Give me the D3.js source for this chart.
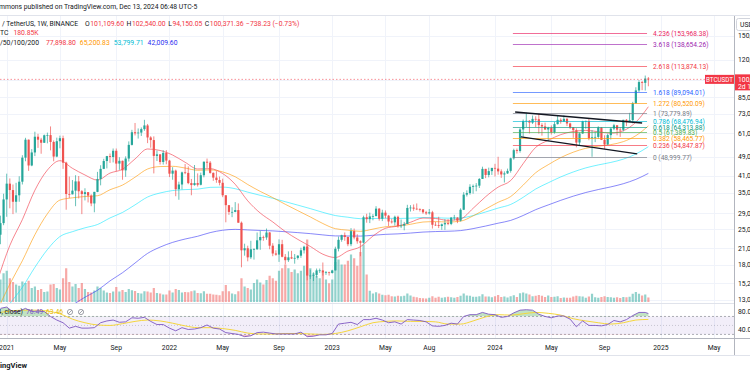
<!DOCTYPE html>
<html>
<head>
<meta charset="utf-8">
<script src="https://cdn.jsdelivr.net/npm/d3@7"></script>
<style>
  body { margin: 0; background: #fff; }
  svg { display: block; font-family: Roboto, "Noto Sans", sans-serif; }
</style>
</head>
<body>
<svg id="chart" width="750" height="375"></svg>
<script>
// weekly BTCUSDT candles (Binance), first bar = week of Mon 21 Dec 2020, prices in thousand USDT
const firstWeek = "2020-12-21";

const opens = [
  23.8, 26.5, 33.0, 38.2, 36.0, 32.3, 34.3, 38.9, 48.6, 57.4,
  45.2, 51.0, 59.0, 57.4, 55.8, 59.8, 59.9, 56.2, 49.1, 56.6,
  58.2, 46.4, 34.7, 34.6, 35.8, 39.0, 35.6, 34.7, 35.3, 34.2,
  31.8, 35.4, 39.9, 43.8, 47.1, 49.3, 48.9, 51.8, 46.0, 47.2,
  43.2, 48.2, 54.7, 61.5, 60.9, 61.3, 63.3, 65.5, 58.6, 57.2,
  49.4, 50.1, 46.7, 50.8, 47.3, 41.9, 43.1, 36.3, 37.9, 42.4,
  42.2, 38.4, 37.7, 38.4, 37.8, 41.3, 46.8, 46.4, 42.2, 40.4,
  39.5, 38.5, 34.3, 31.3, 29.4, 29.4, 29.9, 26.6, 20.6, 21.0,
  19.3, 20.8, 20.8, 22.6, 23.3, 23.2, 24.3, 21.5, 20.0, 19.8,
  21.8, 19.4, 18.8, 19.3, 19.1, 19.2, 19.6, 20.6, 21.3, 16.3,
  16.3, 16.4, 17.1, 17.1, 16.8, 16.8, 16.7, 17.1, 20.9, 22.7,
  23.7, 23.3, 21.8, 24.6, 23.2, 22.4, 22.1, 28.0, 27.5, 28.2,
  28.3, 30.3, 27.6, 29.2, 28.4, 26.9, 26.7, 28.1, 25.8, 25.9,
  26.3, 30.5, 30.6, 30.3, 30.2, 30.1, 29.3, 29.0, 29.3, 26.1,
  26.0, 25.8, 26.2, 26.5, 26.3, 27.9, 27.9, 27.1, 30.0, 34.5,
  35.0, 37.1, 37.4, 37.5, 39.9, 43.8, 41.4, 42.9, 44.2, 43.9,
  42.8, 41.6, 42.0, 43.0, 48.3, 52.1, 51.7, 63.1, 68.3, 68.4,
  67.2, 69.6, 69.4, 65.7, 64.9, 63.1, 64.0, 61.5, 66.3, 69.0,
  67.8, 69.6, 66.7, 64.3, 62.7, 55.9, 60.8, 68.2, 68.3, 58.2,
  58.7, 58.9, 64.2, 57.3, 54.9, 59.9, 63.6, 65.6, 63.0, 62.9,
  69.0, 68.0, 68.8, 80.4, 90.6, 97.9, 97.2, 101.1096
];
const highs = [
  28.4, 34.8, 41.9, 40.1, 37.9, 38.5, 40.9, 49.7, 58.4, 57.5,
  52.6, 61.8, 60.6, 58.4, 60.2, 61.3, 64.9, 57.0, 58.5, 59.6,
  59.6, 46.8, 40.8, 39.5, 41.3, 41.0, 36.0, 36.6, 35.3, 34.6,
  35.4, 42.6, 45.3, 48.1, 49.4, 50.5, 52.9, 52.9, 48.8, 47.3,
  49.2, 56.5, 62.9, 67.0, 63.7, 64.3, 69.0, 66.4, 59.3, 59.2,
  51.9, 50.2, 52.1, 52.1, 47.6, 44.5, 43.5, 38.9, 42.7, 45.8,
  44.8, 39.9, 45.4, 42.0, 42.3, 46.9, 48.2, 47.1, 42.4, 42.9,
  40.8, 40.0, 34.3, 31.3, 30.7, 32.2, 31.8, 26.9, 21.9, 21.5,
  22.5, 21.0, 24.3, 24.7, 23.6, 25.2, 24.4, 22.0, 20.6, 22.8,
  22.7, 19.9, 20.4, 20.5, 19.9, 19.7, 21.1, 21.5, 21.5, 17.2,
  16.8, 17.4, 17.4, 18.4, 17.0, 16.9, 17.2, 21.3, 23.4, 23.8,
  24.3, 23.4, 25.3, 25.2, 23.9, 22.6, 28.4, 28.9, 29.2, 28.8,
  31.0, 30.5, 30.0, 29.8, 28.6, 27.6, 28.4, 28.4, 27.4, 26.8,
  31.4, 31.3, 31.5, 31.8, 30.4, 30.1, 29.7, 30.2, 29.7, 26.8,
  28.1, 26.4, 27.5, 27.5, 28.0, 28.6, 28.0, 30.4, 35.3, 35.9,
  38.0, 37.9, 38.4, 40.2, 44.7, 43.8, 44.3, 44.2, 45.9, 49.0,
  43.6, 42.8, 43.9, 48.6, 52.8, 52.9, 64.0, 69.2, 73.8, 68.9,
  71.8, 71.3, 72.8, 66.9, 67.2, 64.7, 65.5, 67.7, 71.9, 70.0,
  71.9, 70.2, 67.2, 64.5, 63.8, 61.4, 68.4, 68.5, 70.0, 62.7,
  61.8, 65.0, 64.5, 59.8, 60.7, 64.1, 66.5, 65.6, 64.5, 69.0,
  69.5, 73.6, 81.5, 93.3, 99.6, 98.9, 104.0, 102.54
];
const lows = [
  21.8, 26.0, 28.1, 30.4, 28.8, 29.2, 32.3, 37.9, 47.0, 43.0,
  44.9, 49.3, 53.2, 50.4, 55.7, 55.5, 52.0, 47.0, 48.8, 53.0,
  43.8, 30.0, 33.4, 34.6, 31.0, 33.3, 28.8, 32.7, 32.1, 31.0,
  29.3, 35.3, 37.6, 43.7, 44.0, 46.3, 46.5, 42.8, 43.4, 39.6,
  40.7, 46.9, 54.4, 59.7, 58.0, 59.4, 62.3, 55.6, 53.3, 42.0,
  47.1, 45.6, 45.6, 45.7, 40.6, 39.6, 34.0, 32.9, 36.2, 41.7,
  38.0, 34.3, 37.5, 37.2, 37.6, 40.5, 44.2, 41.9, 39.2, 38.5,
  37.6, 33.7, 26.7, 28.6, 28.0, 29.3, 26.6, 17.6, 19.6, 18.6,
  19.0, 18.9, 20.7, 20.7, 22.5, 22.7, 20.8, 19.5, 19.6, 18.5,
  19.3, 18.1, 18.5, 19.0, 18.2, 18.9, 19.2, 20.0, 15.6, 15.8,
  15.5, 16.0, 16.7, 16.3, 16.4, 16.3, 16.6, 17.1, 20.4, 22.3,
  22.5, 21.4, 21.4, 22.8, 21.9, 19.5, 21.9, 26.6, 26.5, 27.2,
  28.2, 27.1, 27.0, 27.7, 25.8, 26.4, 25.9, 25.4, 25.3, 24.8,
  26.3, 29.5, 29.7, 29.9, 29.5, 28.9, 28.6, 28.7, 25.2, 25.8,
  25.3, 24.9, 24.9, 26.0, 26.0, 27.2, 26.5, 26.9, 29.9, 33.9,
  34.5, 34.8, 35.6, 36.7, 39.9, 40.2, 40.5, 41.4, 40.8, 41.5,
  40.3, 38.6, 41.8, 42.3, 47.7, 50.5, 50.9, 59.0, 64.5, 60.8,
  66.4, 64.5, 60.7, 59.6, 62.8, 56.6, 60.2, 60.7, 66.1, 66.6,
  67.6, 65.1, 63.4, 58.4, 53.5, 54.3, 60.6, 63.5, 57.1, 49.0,
  56.1, 57.8, 57.2, 52.6, 54.6, 57.5, 62.7, 59.8, 58.9, 62.0,
  65.1, 67.5, 66.8, 80.2, 89.3, 90.8, 90.5, 94.15005
];
const closes = [
  26.5, 33.0, 38.2, 36.0, 32.3, 34.3, 38.9, 48.6, 57.4, 45.2,
  51.0, 59.0, 57.4, 55.8, 59.8, 59.9, 56.2, 49.1, 56.6, 58.2,
  46.4, 34.7, 34.6, 35.8, 39.0, 35.6, 34.7, 35.3, 34.2, 31.8,
  35.4, 39.9, 43.8, 47.1, 49.3, 48.9, 51.8, 46.0, 47.2, 43.2,
  48.2, 54.7, 61.5, 60.9, 61.3, 63.3, 65.5, 58.6, 57.2, 49.4,
  50.1, 46.7, 50.8, 47.3, 41.9, 43.1, 36.3, 37.9, 42.4, 42.2,
  38.4, 37.7, 38.4, 37.8, 41.3, 46.8, 46.4, 42.2, 40.4, 39.5,
  38.5, 34.3, 31.3, 29.4, 29.4, 29.9, 26.6, 20.6, 21.0, 19.3,
  20.8, 20.8, 22.6, 23.3, 23.2, 24.3, 21.5, 20.0, 19.8, 21.8,
  19.4, 18.8, 19.3, 19.1, 19.2, 19.6, 20.6, 21.3, 16.3, 16.3,
  16.4, 17.1, 17.1, 16.8, 16.8, 16.7, 17.1, 20.9, 22.7, 23.7,
  23.3, 21.8, 24.6, 23.2, 22.4, 22.1, 28.0, 27.5, 28.2, 28.3,
  30.3, 27.6, 29.2, 28.4, 26.9, 26.7, 28.1, 25.8, 25.9, 26.3,
  30.5, 30.6, 30.3, 30.2, 30.1, 29.3, 29.0, 29.3, 26.1, 26.0,
  25.8, 26.2, 26.5, 26.3, 27.9, 27.9, 27.1, 30.0, 34.5, 35.0,
  37.1, 37.4, 37.5, 39.9, 43.8, 41.4, 42.9, 44.2, 43.9, 42.8,
  41.6, 42.0, 43.0, 48.3, 52.1, 51.7, 63.1, 68.3, 68.4, 67.2,
  69.6, 69.4, 65.7, 64.9, 63.1, 64.0, 61.5, 66.3, 69.0, 67.8,
  69.6, 66.7, 64.3, 62.7, 55.9, 60.8, 68.2, 68.3, 58.2, 58.7,
  58.9, 64.2, 57.3, 54.9, 59.9, 63.6, 65.6, 63.0, 62.9, 69.0,
  68.0, 68.8, 80.4, 90.6, 97.9, 97.2, 101.1096, 100.37136
];
// weekly volume, thousand BTC
const volumes = [
  900, 1150, 1250, 950, 800, 700, 650, 820, 760, 850,
  560, 620, 480, 520, 400, 420, 700, 720, 560, 500,
  950, 1350, 800, 620, 720, 560, 760, 520, 400, 380,
  460, 620, 560, 460, 380, 360, 420, 600, 420, 480,
  400, 520, 470, 440, 360, 340, 430, 420, 380, 560,
  360, 340, 300, 300, 460, 380, 520, 480, 380, 400,
  390, 430, 460, 360, 350, 430, 330, 330, 300, 290,
  270, 430, 680, 430, 340, 310, 430, 950, 620, 560,
  500, 760, 900, 780, 700, 880, 1050, 950, 850, 1250,
  1350, 1500, 1350, 1200, 1300, 1150, 1250, 1450, 2500, 1350,
  1150, 1050, 950, 1200, 900, 750, 900, 1600, 1700, 1500,
  1500, 1650, 1900, 1750, 1450, 2000, 2300, 1100, 450, 340,
  390, 340, 290, 270, 290, 230, 220, 250, 230, 250,
  340, 260, 210, 190, 160, 150, 140, 170, 230, 170,
  210, 170, 190, 210, 190, 170, 200, 250, 340, 260,
  250, 210, 210, 230, 310, 220, 220, 190, 230, 280,
  200, 220, 180, 230, 270, 200, 350, 380, 340, 300,
  230, 250, 280, 250, 200, 260, 200, 210, 230, 160,
  180, 170, 170, 220, 250, 230, 220, 170, 220, 330,
  190, 170, 200, 230, 200, 190, 170, 190, 160, 200,
  190, 210, 330, 400, 330, 260, 300, 180.85
];

// moving averages, one value every 4 weeks (from week -1), thousand USDT
const ema20 = [15.5, 21.55, 27.38, 35.93, 43.33, 47.25, 44.03, 41.39, 39.48, 42.12, 43.65, 48.02, 52.67,
  51.95, 49.8, 46.56, 43.76, 43.9, 41.94, 37.97, 32.58, 29.09, 26.79, 24.51, 22.79, 21.35, 19.87,
  19.27, 20.45, 21.29, 23.5, 25.26, 25.79, 26.71, 27.77, 27.66, 27.18, 27.55, 30.39, 33.84, 36.99,
  39.3, 45.98, 53.47, 57.06, 60.15, 61.93, 62.57, 61.8, 60.95, 62.37, 67.52, 77.9];
const ema50 = [11.8, 15.06, 18.7, 23.8, 28.9, 32.8, 33.5, 33.9, 34.15, 36.1, 37.7, 40.55, 43.75,
  44.75, 44.86, 44.14, 43.24, 43.39, 42.59, 40.72, 37.9, 35.55, 33.57, 31.55, 29.74, 28.06, 26.4,
  25.17, 24.83, 24.56, 25.07, 25.62, 25.8, 26.21, 26.77, 26.87, 26.77, 26.99, 28.34, 30.19, 32.14,
  33.89, 37.68, 42.26, 45.52, 48.61, 51.12, 53.0, 54.07, 54.84, 56.38, 59.57, 65.2];
const ema100 = [10.8, 12.57, 14.62, 17.6, 20.74, 23.4, 24.48, 25.37, 26.16, 27.8, 29.26, 31.38, 33.75,
  35.03, 35.83, 36.15, 36.3, 36.91, 36.99, 36.45, 35.31, 34.29, 33.35, 32.32, 31.31, 30.31, 29.28,
  28.42, 27.99, 27.61, 27.64, 27.73, 27.67, 27.74, 27.91, 27.87, 27.74, 27.79, 28.43, 29.38, 30.46,
  31.5, 33.66, 36.35, 38.5, 40.65, 42.56, 44.2, 45.43, 46.5, 47.94, 50.25, 53.8];
const ema200 = [null, null, null, null, null, null, 12.4, 13.34, 14.22, 15.52, 16.74, 18.31, 20.02,
  21.22, 22.17, 22.87, 23.46, 24.27, 24.81, 25.01, 24.88, 24.76, 24.66, 24.47, 24.27, 24.04, 23.76,
  23.54, 23.52, 23.5, 23.68, 23.88, 23.99, 24.17, 24.39, 24.51, 24.58, 24.73, 25.18, 25.79, 26.48,
  27.17, 28.44, 30.02, 31.36, 32.73, 34.02, 35.19, 36.17, 37.07, 38.18, 39.74, 42.01];

// RSI 14, one value every 2 weeks + last week
const rsi = [
  88, 91, 80, 82, 88, 81, 82, 81, 70, 62,
  56, 44, 48, 44, 44, 45, 56, 60, 62, 57,
  58, 67, 66, 68, 59, 52, 52, 44, 38, 45,
  41, 42, 45, 51, 44, 42, 34, 32, 30, 25,
  27, 34, 35, 33, 31, 31, 31, 31, 35, 25,
  26, 29, 29, 32, 53, 55, 57, 52, 63, 63,
  66, 62, 56, 58, 53, 63, 62, 61, 58, 49,
  48, 50, 55, 53, 70, 74, 74, 79, 75, 74,
  68, 70, 78, 84, 85, 84, 75, 70, 67, 71,
  71, 64, 47, 60, 50, 50, 49, 52, 61, 58,
  63, 72, 79, 79, 76.49
];
// RSI-based MA, one value every 4 weeks (from week -1)
const rsiMa = [78, 82, 84, 84, 82, 76, 64, 56, 51, 50, 54, 59, 62, 60, 55, 49, 45, 45, 43, 39,
  33, 31, 31, 32, 32, 31, 30, 32, 38, 47, 56, 59, 60, 59, 59, 58, 53, 53, 60, 69,
  74, 73, 76, 79, 77, 73, 65, 60, 56, 53, 56, 62, 63.46];

// fibonacci retracement drawn on the chart
const fibRatios = ["4.236", "3.618", "2.618", "1.618", "1.272", "1", "0.786", "0.618", "0.5", "0.382", "0.236", "0"];
const fibPrices = [153968.38, 138654.26, 113874.13, 89094.01, 80520.09, 73779.89, 68476.94, 64313.88, 61389.83, 58465.77, 54847.87, 48999.77];
const fibColors = ["#e91e63", "#9c27b0", "#f23645", "#2962ff", "#ff9800", "#787b86", "#00bcd4", "#089981", "#4caf50", "#ff9800", "#f23645", "#787b86"];
const fibSpan = ["2024-02-10", "2024-12-06"];

// descending channel drawn on the chart: [date, price]
const channelUpper = [["2024-02-15", 74.2], ["2024-11-25", 67.0]];
const channelLower = [["2024-02-28", 58.9], ["2024-11-14", 50.3]];

const priceTicks = [13, 15.2, 18, 21, 25, 29, 35, 41, 49, 61, 73, 85, 100, 120, 150];
const timeTicks = ["2021-01-04", "2021-05-03", "2021-09-06", "2022-01-03", "2022-05-02", "2022-09-05",
  "2023-01-02", "2023-05-01", "2023-08-07", "2024-01-01", "2024-05-06", "2024-09-02", "2025-01-06", "2025-05-05"];
const timeLabels = ["2021", "May", "Sep", "2022", "May", "Sep", "2023", "May", "Aug", "2024", "May", "Sep", "2025", "May"];

const lastPrice = 100.37136;

// ---------------------------------------------------------------
const svg = d3.select("#chart");
const paneRight = 734, paneTop = 16, paneBottom = 303, rsiTop = 303, rsiBottom = 338;
const up = "#26a69a", down = "#ef5350";
const weekMs = 7 * 864e5;
const t0 = Date.parse(firstWeek);
const weekDate = i => new Date(t0 + i * weekMs);

const x = d3.scaleUtc()
    .domain([new Date(t0), new Date(Date.UTC(2024, 0, 1))])
    .range([0.45, 495]);
const y = d3.scaleLog().domain([13, 150]).range([300, 36]);
const yVol = d3.scaleLinear().domain([0, 3000]).range([302, 227]);
const yRsi = d3.scaleLinear().domain([22, 100]).range([rsiBottom, rsiTop]);

const candles = closes.map((c, i) => ({
  date: weekDate(i), o: opens[i], h: highs[i], l: lows[i], c: c, v: volumes[i]
}));

const defs = svg.append("defs");
defs.append("clipPath").attr("id", "mainClip")
  .append("rect").attr("x", 0).attr("y", paneTop).attr("width", paneRight).attr("height", paneBottom - paneTop);
defs.append("clipPath").attr("id", "rsiClip")
  .append("rect").attr("x", 0).attr("y", rsiTop).attr("width", paneRight).attr("height", rsiBottom - rsiTop);
defs.append("clipPath").attr("id", "obClip")
  .append("rect").attr("x", 0).attr("y", rsiTop).attr("width", paneRight).attr("height", yRsi(70) - rsiTop);
defs.append("clipPath").attr("id", "osClip")
  .append("rect").attr("x", 0).attr("y", yRsi(30)).attr("width", paneRight).attr("height", rsiBottom - yRsi(30));

const dark = "#131722";

// header strip
svg.append("line").attr("x1", 0).attr("x2", 750).attr("y1", 15.5).attr("y2", 15.5).attr("stroke", "#e0e3eb");
svg.append("text").attr("x", -1).attr("y", 7).attr("dy", "0.35em")
  .attr("font-size", 6.8).attr("fill", dark)
  .text("mmons published on TradingView.com, Dec 13, 2024 06:48 UTC-5");

// grid
const grid = svg.append("g");
grid.selectAll(".hg").data(priceTicks).join("line")
  .attr("x1", 0).attr("x2", paneRight)
  .attr("y1", d => Math.round(y(d)) + 0.5).attr("y2", d => Math.round(y(d)) + 0.5)
  .attr("stroke", "#f0f3fa");
grid.selectAll(".vg").data(timeTicks).join("line")
  .attr("x1", d => Math.round(x(new Date(d))) + 0.5).attr("x2", d => Math.round(x(new Date(d))) + 0.5)
  .attr("y1", paneTop).attr("y2", rsiBottom)
  .attr("stroke", "#f0f3fa");

// main pane
const main = svg.append("g").attr("clip-path", "url(#mainClip)");
const bw = 2.2;

main.selectAll(".vol").data(candles).join("rect")
  .attr("x", d => x(d.date) - bw / 2).attr("width", bw)
  .attr("y", d => yVol(d.v)).attr("height", d => yVol(0) - yVol(d.v))
  .attr("fill", d => d.c >= d.o ? "rgba(38,166,154,0.5)" : "rgba(239,83,80,0.5)");

// moving averages
const maWeeks = ema20.map((_, k) => -1 + 4 * k);
const maLine = d3.line()
  .defined(d => d.v != null)
  .x(d => x(weekDate(d.w))).y(d => y(d.v))
  .curve(d3.curveMonotoneX);
[[ema200, "#3b3bf5", 0.6], [ema100, "#00e5ff", 0.55], [ema50, "#ff9800", 0.6], [ema20, "#f23645", 0.6]]
  .forEach(([vals, col, op]) => {
    main.append("path")
      .datum(vals.map((v, k) => ({w: maWeeks[k], v: v})))
      .attr("d", maLine).attr("fill", "none")
      .attr("stroke", col).attr("stroke-opacity", op).attr("stroke-width", 1);
  });

// fibonacci levels
const fibX0 = x(new Date(fibSpan[0])), fibX1 = x(new Date(fibSpan[1]));
const fib = svg.append("g");
fibPrices.forEach((p, i) => {
  const yy = Math.round(y(p / 1000)) + 0.5;
  fib.append("line").attr("x1", fibX0).attr("x2", fibX1).attr("y1", yy).attr("y2", yy)
    .attr("stroke", fibColors[i]).attr("stroke-opacity", 0.65);
  fib.append("text").attr("x", fibX1 + 6).attr("y", yy).attr("dy", "0.35em")
    .attr("font-size", 6.6).attr("fill", fibColors[i])
    .text(fibRatios[i] + " (" + d3.format(",.2f")(p) + ")");
});

// current price line
const yLast = y(lastPrice);
svg.append("line").attr("x1", 0).attr("x2", 705).attr("y1", yLast).attr("y2", yLast)
  .attr("stroke", "#f23645").attr("stroke-opacity", 0.55).attr("stroke-dasharray", "1.5,2");

// candles
const cg = main.append("g");
cg.selectAll(".wick").data(candles).join("line")
  .attr("x1", d => x(d.date)).attr("x2", d => x(d.date))
  .attr("y1", d => y(d.h)).attr("y2", d => y(d.l))
  .attr("stroke", d => d.c >= d.o ? up : down).attr("stroke-width", 0.7);
cg.selectAll(".body").data(candles).join("rect")
  .attr("x", d => x(d.date) - bw / 2).attr("width", bw)
  .attr("y", d => y(Math.max(d.o, d.c)))
  .attr("height", d => Math.max(0.7, Math.abs(y(d.o) - y(d.c))))
  .attr("fill", d => d.c >= d.o ? up : down);

// channel
const chLine = d3.line().x(d => x(new Date(d[0]))).y(d => y(d[1]));
[channelUpper, channelLower].forEach(c => {
  svg.append("path").datum(c).attr("d", chLine)
    .attr("stroke", dark).attr("stroke-width", 1.3).attr("fill", "none");
});

// symbol label on price line
svg.append("rect").attr("x", 705).attr("y", yLast - 4.5).attr("width", 29).attr("height", 9)
  .attr("fill", "#f23645");
svg.append("text").attr("x", 719.5).attr("y", yLast).attr("dy", "0.35em")
  .attr("text-anchor", "middle").attr("font-size", 6.3).attr("fill", "#fff").text("BTCUSDT");

// legend rows: pieces placed one after another
const leg = svg.append("g").attr("font-size", 6.8);
function legendRow(yy, x0, parts) {
  let xx = x0;
  parts.forEach(([txt, col, gap]) => {
    const t = leg.append("text").attr("x", xx).attr("y", yy).attr("dy", "0.35em").attr("fill", col).text(txt);
    xx += t.node().getComputedTextLength() + gap;
  });
}
leg.append("text").attr("x", 2).attr("y", 24).attr("dy", "0.35em").attr("fill", dark).text("/ TetherUS, 1W, BINANCE");
legendRow(24, 85, [["O", dark, 0.6], ["101,109.60", "#f23645", 2.5],
  ["H", dark, 0.6], ["102,540.00", "#f23645", 2.5],
  ["L", dark, 0.6], ["94,150.05", "#f23645", 2.5],
  ["C", dark, 0.6], ["100,371.36", "#f23645", 2.5],
  ["\u2212738.23 (\u22120.73%)", "#f23645", 0]]);
legendRow(33, 0, [["TC", dark, 5], ["180.85K", "#f23645", 0]]);
legendRow(43, 0, [["/50/100/200", dark, 7], ["77,898.80", "#f23645", 4],
  ["65,200.83", "#ff9800", 4], ["53,799.71", "#00bcd4", 4], ["42,009.60", "#2a2ef0", 0]]);

// pane separator
svg.append("line").attr("x1", 0).attr("x2", paneRight).attr("y1", rsiTop + 0.5).attr("y2", rsiTop + 0.5)
  .attr("stroke", "#e0e3eb");

// RSI pane
const rp = svg.append("g").attr("clip-path", "url(#rsiClip)");
rp.append("rect").attr("x", 0).attr("width", paneRight)
  .attr("y", yRsi(70)).attr("height", yRsi(30) - yRsi(70))
  .attr("fill", "rgba(126,87,194,0.1)");
[70, 30].forEach(v => rp.append("line").attr("x1", 0).attr("x2", paneRight)
  .attr("y1", yRsi(v)).attr("y2", yRsi(v))
  .attr("stroke", "#787b86").attr("stroke-opacity", 0.6).attr("stroke-dasharray", "2,2"));
rp.append("line").attr("x1", 0).attr("x2", paneRight).attr("y1", yRsi(50)).attr("y2", yRsi(50))
  .attr("stroke", "#787b86").attr("stroke-opacity", 0.35).attr("stroke-dasharray", "1,2");

const rsiWeek = k => Math.min(2 * k, closes.length - 1);
const rsiPts = rsi.map((v, k) => ({w: rsiWeek(k), v: v}));
rp.append("path").datum(rsiPts).attr("clip-path", "url(#obClip)")
  .attr("d", d3.area().x(d => x(weekDate(d.w))).y0(yRsi(70)).y1(d => yRsi(d.v)))
  .attr("fill", "rgba(76,175,80,0.35)");
rp.append("path").datum(rsiPts).attr("clip-path", "url(#osClip)")
  .attr("d", d3.area().x(d => x(weekDate(d.w))).y0(yRsi(30)).y1(d => yRsi(d.v)))
  .attr("fill", "rgba(242,54,69,0.3)");
rp.append("path")
  .datum(rsiMa.map((v, k) => ({w: maWeeks[k], v: v})))
  .attr("d", d3.line().x(d => x(weekDate(d.w))).y(d => yRsi(d.v)).curve(d3.curveMonotoneX))
  .attr("fill", "none").attr("stroke", "#f5d63d").attr("stroke-width", 1);
rp.append("path").datum(rsiPts)
  .attr("d", d3.line().x(d => x(weekDate(d.w))).y(d => yRsi(d.v)))
  .attr("fill", "none").attr("stroke", "#7e57c2").attr("stroke-width", 0.9);

// RSI legend
svg.append("text").attr("x", 23).attr("y", 312).attr("dy", "0.35em").attr("text-anchor", "end")
  .attr("font-size", 6.8).attr("fill", dark).text("RSI (14, close)");
svg.append("text").attr("x", 26).attr("y", 312).attr("dy", "0.35em")
  .attr("font-size", 6.8).attr("fill", "#7e57c2").text("76.49");
svg.append("text").attr("x", 46).attr("y", 312).attr("dy", "0.35em")
  .attr("font-size", 6.8).attr("fill", "#e6b800").text("63.46");
[70, 81].forEach(cx => {
  svg.append("circle").attr("cx", cx).attr("cy", 312).attr("r", 2.6)
    .attr("fill", "none").attr("stroke", "#787b86").attr("stroke-width", 0.7);
  svg.append("line").attr("x1", cx - 1.8).attr("x2", cx + 1.8).attr("y1", 313.8).attr("y2", 310.2)
    .attr("stroke", "#787b86").attr("stroke-width", 0.7);
});

// time axis
svg.append("line").attr("x1", 0).attr("x2", 750).attr("y1", rsiBottom + 0.5).attr("y2", rsiBottom + 0.5)
  .attr("stroke", "#b2b5be");
svg.selectAll(".tl").data(timeTicks).join("text")
  .attr("x", d => x(new Date(d))).attr("y", 348).attr("dy", "0.35em")
  .attr("text-anchor", "middle").attr("font-size", 6.8).attr("fill", dark)
  .text((d, i) => timeLabels[i]);
svg.append("line").attr("x1", 0).attr("x2", 750).attr("y1", 355.5).attr("y2", 355.5).attr("stroke", "#e0e3eb");
svg.append("text").attr("x", 27).attr("y", 365).attr("dy", "0.35em").attr("text-anchor", "end")
  .attr("font-size", 7.5).attr("font-weight", "bold").attr("fill", dark).text("TradingView");

// price axis
svg.append("line").attr("x1", paneRight + 0.5).attr("x2", paneRight + 0.5).attr("y1", paneTop).attr("y2", 355)
  .attr("stroke", "#b2b5be");
svg.selectAll(".pl").data(priceTicks.filter(d => d !== 100)).join("text")
  .attr("x", 738).attr("y", d => y(d)).attr("dy", "0.35em")
  .attr("font-size", 6.8).attr("fill", dark)
  .text(d => d3.format(",")(Math.round(d * 1000)));
[80, 40].forEach(v => svg.append("text").attr("x", 738).attr("y", yRsi(v)).attr("dy", "0.35em")
  .attr("font-size", 6.8).attr("fill", dark).text(v.toFixed(2)));
svg.append("rect").attr("x", paneRight + 1).attr("y", yLast - 5).attr("width", 20).attr("height", 16)
  .attr("fill", "#f23645");
svg.append("text").attr("x", 738).attr("y", yLast).attr("dy", "0.35em")
  .attr("font-size", 6.8).attr("fill", "#fff").text(d3.format(",.2f")(lastPrice * 1000));
svg.append("text").attr("x", 738).attr("y", yLast + 7).attr("dy", "0.35em")
  .attr("font-size", 6.8).attr("fill", "#fff").text("2d 17:11:08");
svg.append("rect").attr("x", 736.5).attr("y", 18.5).attr("width", 20).attr("height", 12).attr("rx", 2)
  .attr("fill", "#fff").attr("stroke", "#d1d4dc");
svg.append("text").attr("x", 740).attr("y", 24.5).attr("dy", "0.35em")
  .attr("font-size", 6.8).attr("fill", dark).text("USDT");
</script>
</body>
</html>
